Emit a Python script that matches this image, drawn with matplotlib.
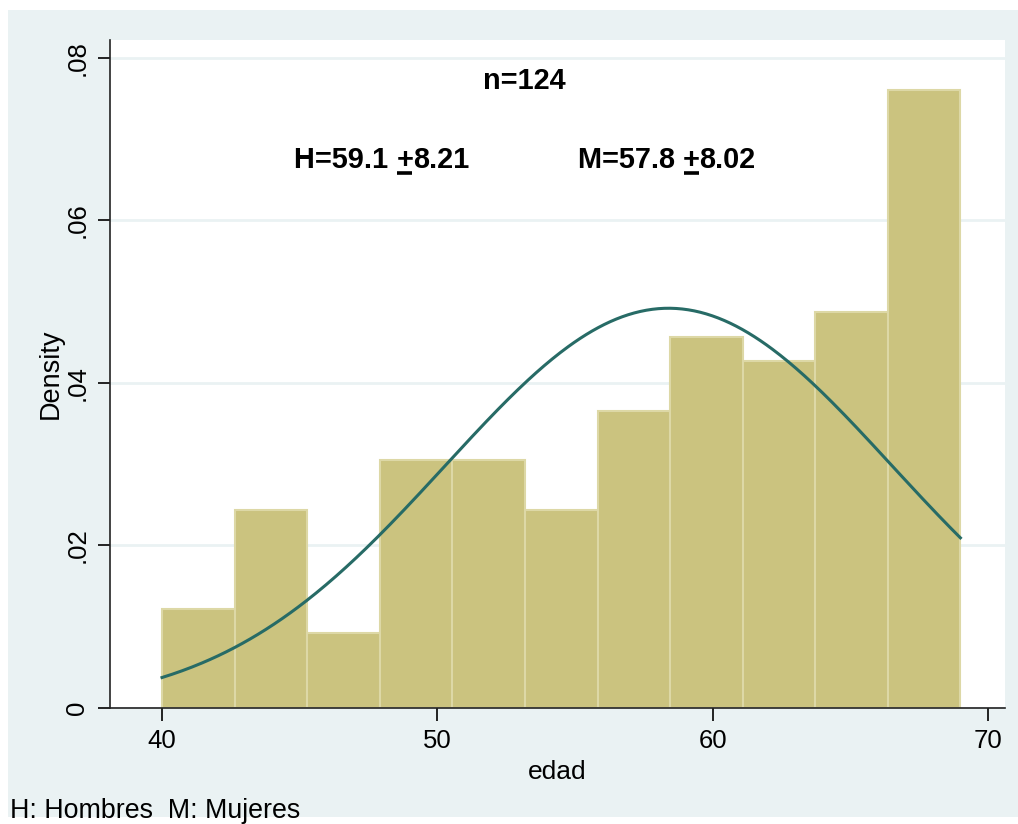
import numpy as np
import matplotlib
matplotlib.use("Agg")
import matplotlib.pyplot as plt
from matplotlib.patches import Rectangle
from matplotlib.lines import Line2D

# ---- data ----
bin_start = 40.0
bin_end = 69.0
n_bins = 11
densities = [0.0122, 0.0244, 0.0092, 0.0305, 0.0305, 0.0244,
             0.0366, 0.0456, 0.0427, 0.0487, 0.0761]
curve_mean = 58.4
curve_sd = 8.11
x_ticks = [40, 50, 60, 70]
y_ticks = [0, 0.02, 0.04, 0.06, 0.08]
y_tick_labels = ["0", ".02", ".04", ".06", ".08"]
n_text = "n=124"
h_parts = ["H=59.1 ", "+", "8.21"]
m_parts = ["M=57.8 ", "+", "8.02"]
note_text = "H: Hombres  M: Mujeres"

plt.rcParams['font.family'] = ['Liberation Sans', 'DejaVu Sans']

BG = '#EAF2F3'
BAR = '#CBC37F'
BAR_EDGE = '#DDD8A6'
CURVE = '#276B66'
ANN_FS = 20.8

fig = plt.figure(figsize=(10.18, 8.24), dpi=100, facecolor='white')
W, H = 1018, 824
fig.patches.append(Rectangle((8 / W, 1 - 817 / H), (W - 8) / W, (817 - 10) / H,
                             transform=fig.transFigure, facecolor=BG,
                             edgecolor='none', zorder=-10))

ax = fig.add_axes([110 / W, 1 - 708 / H, (1005 - 110) / W, (708 - 40) / H])
ax.set_facecolor('white')

edges = np.linspace(bin_start, bin_end, n_bins + 1)
widths = np.diff(edges)
ax.bar(edges[:-1], densities, width=widths, align='edge', color=BAR,
       edgecolor=BAR_EDGE, linewidth=1.5, zorder=2)

xs = np.linspace(bin_start, bin_end, 400)
ys = np.exp(-0.5 * ((xs - curve_mean) / curve_sd) ** 2) / (curve_sd * np.sqrt(2 * np.pi))
ax.plot(xs, ys, color=CURVE, linewidth=2.2, zorder=3)

ax.set_xlim(38.11, 70.62)
ax.set_ylim(0, 0.0822)
ax.set_xticks(x_ticks)
ax.set_xticklabels([str(t) for t in x_ticks])
ax.set_yticks(y_ticks)
ax.set_yticklabels(y_tick_labels, rotation=90, va='center')
ax.tick_params(axis='both', direction='out', length=9, width=1.2,
               labelsize=18.5, colors='black', pad=6)
ax.grid(axis='y', color=BG, linewidth=2, zorder=0)
ax.set_axisbelow(True)

for s in ['top', 'right']:
    ax.spines[s].set_visible(False)
for s in ['left', 'bottom']:
    ax.spines[s].set_color('#222222')
    ax.spines[s].set_linewidth(1.2)
    ax.spines[s].set_zorder(4)

ax.set_xlabel('edad', fontsize=19, labelpad=5)
ax.set_ylabel('Density', fontsize=19.5, labelpad=1)

ax.text(53.15, 0.0772, n_text, fontsize=ANN_FS, fontweight='bold', ha='center', va='center')


def stat_text(x, y, parts):
    t1 = ax.text(x, y, parts[0], fontsize=ANN_FS, fontweight='bold', ha='left', va='baseline')
    t2 = ax.annotate(parts[1], xy=(1, 0), xycoords=t1, fontsize=ANN_FS, fontweight='bold',
                     ha='left', va='bottom')
    t3 = ax.annotate(parts[2], xy=(1, 0), xycoords=t2, fontsize=ANN_FS, fontweight='bold',
                     ha='left', va='bottom')
    return t1, t2, t3


h_texts = stat_text(44.8, 0.0664, h_parts)
m_texts = stat_text(55.1, 0.0664, m_parts)

fig.text(10 / W, 1 - 818 / H, note_text, fontsize=19.3, ha='left', va='baseline')

# underline the "+" signs
fig.canvas.draw()
renderer = fig.canvas.get_renderer()
for t1, t2, t3 in (h_texts, m_texts):
    bb = t2.get_window_extent(renderer)
    base = ax.transData.transform((0, t1.get_position()[1]))[1]
    yline = base - 4.5
    fig.add_artist(Line2D([bb.x0 + 1, bb.x1 - 1], [yline, yline],
                          transform=None, color='black', linewidth=2.6,
                          solid_capstyle='butt'))

fig.savefig('out.png', dpi=100, facecolor=fig.get_facecolor())
